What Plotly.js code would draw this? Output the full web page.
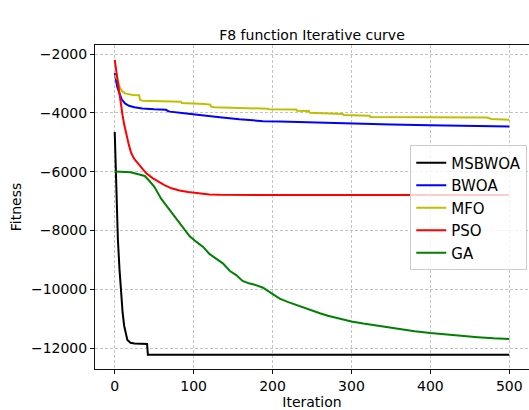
<!DOCTYPE html>
<html>
<head>
<meta charset="utf-8">
<script src="https://cdn.plot.ly/plotly-3.0.1.min.js"></script>
<style>html,body{margin:0;padding:0;background:#fff;}#chart{width:529px;height:410px;}</style>
</head>
<body>
<div id="chart"></div>
<script>
// Data
const msbwoaX = [0, 2, 4, 6, 8, 10, 12, 14, 16, 20, 25, 41, 42, 500];
const msbwoaY = [-4650, -7000, -8300, -9300, -10100, -10800, -11250, -11550, -11730, -11820, -11850, -11860, -12230, -12230];

const bwoaX = [0, 3, 6, 9, 13, 18, 25, 35, 50, 65, 68, 70, 88, 101, 108, 126, 133, 158, 188, 209, 234, 268, 302, 350, 399, 450, 500];
const bwoaY = [-2650, -3100, -3340, -3550, -3680, -3760, -3810, -3850, -3880, -3900, -3950, -3960, -4017, -4060, -4080, -4130, -4150, -4220, -4285, -4300, -4320, -4350, -4370, -4400, -4420, -4445, -4465];

const mfoX = [0, 2, 4, 6, 9, 13, 23, 31, 32, 35, 50, 70, 84, 85, 95, 113, 114, 121, 122, 126, 166, 167, 194, 195, 230, 231, 246, 247, 268, 269, 289, 290, 310, 323, 324, 399, 472, 477, 490, 500];
const mfoY = [-2720, -2800, -2900, -3112, -3250, -3340, -3394, -3400, -3560, -3590, -3600, -3620, -3621, -3670, -3677, -3680, -3700, -3720, -3790, -3813, -3830, -3847, -3860, -3881, -3890, -3927, -3940, -3995, -4005, -4030, -4040, -4075, -4090, -4100, -4140, -4150, -4160, -4210, -4220, -4240];

const psoX = [0, 2, 4, 6, 8, 10, 12, 15, 18, 21, 25, 30, 35, 40, 48, 55, 63, 72, 82, 93, 107, 120, 133, 160, 200, 300, 400, 500];
const psoY = [-2200, -2600, -3000, -3337, -3750, -4100, -4400, -4810, -5100, -5378, -5580, -5740, -5900, -6058, -6220, -6342, -6460, -6568, -6640, -6690, -6750, -6780, -6790, -6795, -6800, -6800, -6800, -6800];

const gaX = [0, 20, 30, 38, 44, 50, 59, 65, 72, 78, 89, 95, 104, 112, 120, 128, 137, 146, 154, 162, 170, 179, 188, 196, 209, 220, 230, 247, 260, 270, 285, 300, 315, 330, 345, 360, 380, 400, 430, 460, 480, 500];
const gaY = [-6000, -6020, -6090, -6150, -6320, -6510, -6930, -7135, -7380, -7590, -7990, -8200, -8400, -8560, -8800, -8950, -9120, -9380, -9520, -9720, -9800, -9860, -9950, -10090, -10320, -10440, -10540, -10700, -10820, -10900, -11000, -11100, -11170, -11230, -11300, -11360, -11430, -11490, -11570, -11630, -11670, -11690];

const seriesNames = ["MSBWOA", "BWOA", "MFO", "PSO", "GA"];
const seriesColors = ["#000000", "#0000ff", "#bfbf00", "#ff0000", "#008000"];
const xs = [msbwoaX, bwoaX, mfoX, psoX, gaX];
const ys = [msbwoaY, bwoaY, mfoY, psoY, gaY];

const font = "DejaVu Sans, sans-serif";
const traces = seriesNames.map((n, i) => ({
  type: "scatter", mode: "lines", name: n, legendgroup: "g" + i,
  x: xs[i], y: ys[i],
  line: {color: seriesColors[i], width: 2}
}));

const axisCommon = {
  showline: true, mirror: true, linecolor: "#111", linewidth: 1,
  ticks: "outside", ticklen: 4, tickcolor: "#111",
  showgrid: true, gridcolor: "#c4c4c4", griddash: "3px,2px", gridwidth: 1,
  zeroline: false,
  tickfont: {family: font, size: 14, color: "#000"}
};

const layout = {
  width: 529, height: 410,
  margin: {l: 95, r: 0, t: 45, b: 41},
  paper_bgcolor: "#fff", plot_bgcolor: "#fff",
  font: {family: font, color: "#000"},
  title: {text: "F8 function Iterative curve", font: {family: font, size: 14, color: "#000"},
          x: 0.5, xref: "paper", y: 1 - 35/410, yanchor: "middle"},
  xaxis: Object.assign({}, axisCommon, {
    range: [-25, 525], tickvals: [0, 100, 200, 300, 400, 500],
    title: {text: "Iteration", font: {family: font, size: 14, color: "#000"}, standoff: 2}
  }),
  yaxis: Object.assign({}, axisCommon, {
    range: [-12714, -1694], tickvals: [-12000, -10000, -8000, -6000, -4000, -2000],
    tickformat: "d",
    title: {text: "Fitness", font: {family: font, size: 14, color: "#000"}, standoff: 6}
  }),
  showlegend: true,
  legend: {
    x: 0.996, xanchor: "right", y: 0.497, yanchor: "middle",
    bgcolor: "rgba(255,255,255,0.8)", bordercolor: "#cccccc", borderwidth: 1,
    font: {family: font, size: 15, color: "#000"},
    tracegroupgap: 0
  }
};

Plotly.newPlot("chart", traces, layout, {displayModeBar: false, staticPlot: true});
</script>
</body>
</html>
